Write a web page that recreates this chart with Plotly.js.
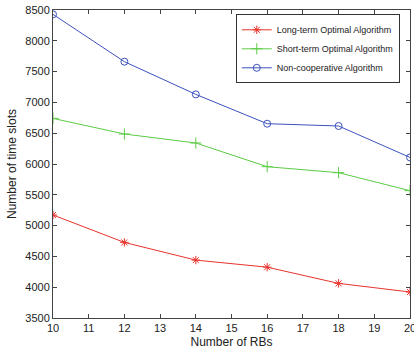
<!DOCTYPE html>
<html><head><meta charset="utf-8">
<script src="https://cdn.plot.ly/plotly-3.0.1.min.js"></script>
<style>html,body{margin:0;padding:0;background:#fff}#chart{width:414px;height:362px}</style>
</head><body><div id="chart"></div>
<script>
const rbs = [10, 12, 14, 16, 18, 20];
const longTerm = [5172, 4727, 4440, 4325, 4062, 3922];
const shortTerm = [6740, 6487, 6341, 5956, 5859, 5567];
const nonCoop = [8429, 7661, 7130, 6654, 6617, 6107];
const names = ['Long-term Optimal Algorithm', 'Short-term Optimal Algorithm', 'Non-cooperative Algorithm'];
const xTicks = [10,11,12,13,14,15,16,17,18,19,20];
const yTicks = [3500,4000,4500,5000,5500,6000,6500,7000,7500,8000,8500];

const traces = [
  {x: rbs, y: longTerm, name: names[0], mode: 'lines+markers', line: {color: '#e8332c', width: 1},
   marker: {symbol: 'asterisk-open', size: 7, color: '#e8332c', line: {color: '#e8332c', width: 1}}},
  {x: rbs, y: shortTerm, name: names[1], mode: 'lines+markers', line: {color: '#5ccc45', width: 1},
   marker: {symbol: 'cross-thin-open', size: 8, color: '#5ccc45', line: {color: '#5ccc45', width: 1}}},
  {x: rbs, y: nonCoop, name: names[2], mode: 'lines+markers', line: {color: '#3c52bd', width: 1},
   marker: {symbol: 'circle-open', size: 7, color: '#3c52bd', line: {color: '#3c52bd', width: 1}}}
];

const axisCommon = {showgrid: false, zeroline: false, showline: true, mirror: 'ticks', linecolor: '#444', linewidth: 1,
  ticks: 'inside', ticklen: 4, tickcolor: '#444', ticklabeloverflow: 'allow', automargin: false,
  tickfont: {family: 'Liberation Sans, Arial', size: 11, color: '#222'}};

const layout = {
  width: 414, height: 362,
  margin: {l: 53, r: 4, t: 10, b: 44},
  paper_bgcolor: '#fff', plot_bgcolor: '#fff',
  font: {family: 'Liberation Sans, Arial', color: '#222'},
  xaxis: Object.assign({}, axisCommon, {range: [10, 20], tickvals: xTicks, ticktext: xTicks.map(String),
    title: {text: 'Number of RBs', font: {size: 12}, standoff: 4}}),
  yaxis: Object.assign({}, axisCommon, {range: [3500, 8500], tickvals: yTicks, ticktext: yTicks.map(String),
    title: {text: 'Number of time slots', font: {size: 12}, standoff: 6}}),
  legend: {x: 0.512, y: 0.986, xanchor: 'left', yanchor: 'top', bgcolor: '#fff', bordercolor: '#333', borderwidth: 1,
    font: {family: 'Liberation Sans, Arial', size: 9, color: '#222'}, tracegroupgap: 0, itemwidth: 30},
  showlegend: true
};

Plotly.newPlot('chart', traces, layout, {staticPlot: true, displayModeBar: false});
</script>
</body></html>
